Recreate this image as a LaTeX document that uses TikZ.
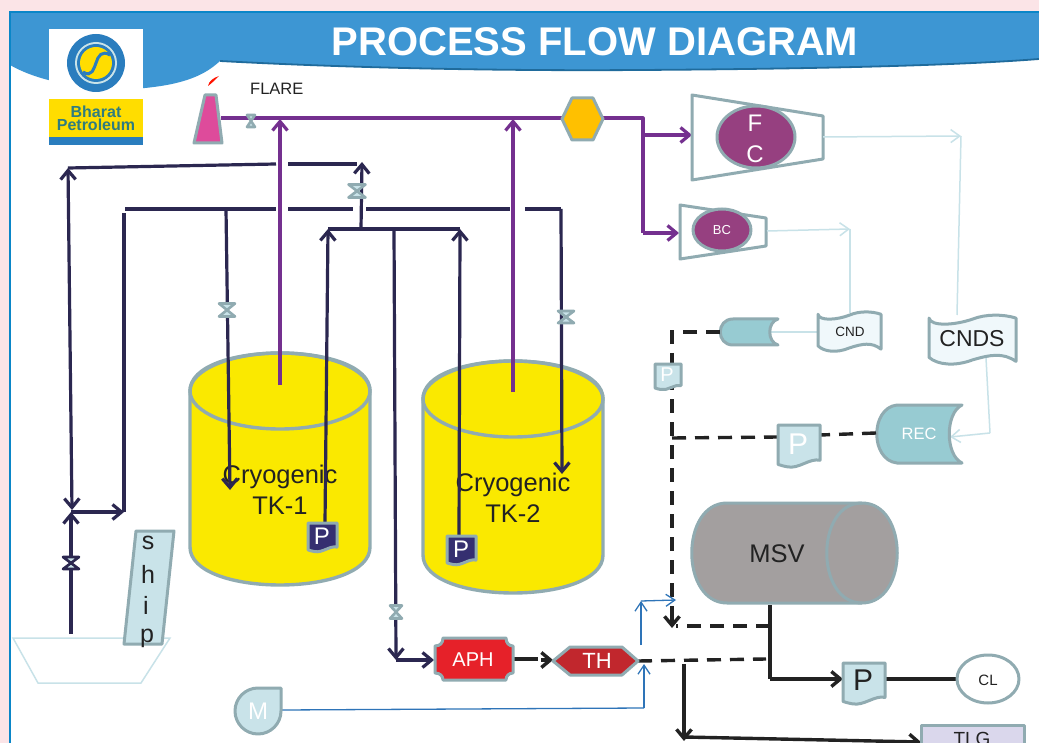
\documentclass[tikz,border=0pt]{standalone}
\usepackage{fontspec}
\setmainfont{Liberation Sans}
\usetikzlibrary{arrows.meta,calc}
\definecolor{pinkbg}{HTML}{FBE4E7}
\definecolor{hdr}{HTML}{3D96D3}
\definecolor{hdrdark}{HTML}{1F6B9C}
\definecolor{edgeblue}{HTML}{0A86C8}
\definecolor{grayline}{HTML}{90ABB1}
\definecolor{navy}{HTML}{2B2750}
\definecolor{navyfill}{HTML}{352F70}
\definecolor{purp}{HTML}{74308F}
\definecolor{paleline}{HTML}{C8E2E8}
\definecolor{paleblue}{HTML}{C9E3E9}
\definecolor{teal}{HTML}{97CBD2}
\definecolor{wave}{HTML}{F0F8FB}
\definecolor{tankyellow}{HTML}{FAE900}
\definecolor{plum}{HTML}{964080}
\definecolor{wire}{HTML}{2E74B8}
\definecolor{ink}{HTML}{222222}
\definecolor{logoteal}{HTML}{2F7C80}
\definecolor{flarepink}{HTML}{DE4B9B}
\definecolor{msvgray}{HTML}{A39F9F}
\definecolor{aphred}{HTML}{E62129}
\definecolor{thred}{HTML}{C1272D}
\definecolor{tlgfill}{HTML}{DAD7EC}
\definecolor{hexorange}{HTML}{FFC000}
\definecolor{logoyellow}{HTML}{FFDD00}
\definecolor{logoblue}{HTML}{2A7DBE}
\tikzset{
  px/.style={font=\fontsize{#1}{#1}\selectfont},
  shapeline/.style={draw=grayline,line width=3pt,line join=round},
  navyline/.style={draw=navy,line width=3.2pt},
  navytip/.style={navyline,-{Straight Barb[length=9pt,width=15pt,line width=3.2pt]}},
  navytwo/.style={navyline,{Straight Barb[length=9pt,width=15pt,line width=3.2pt]}-{Straight Barb[length=9pt,width=15pt,line width=3.2pt]}},
  purpline/.style={draw=purp,line width=3.2pt},
  purptip/.style={purpline,-{Straight Barb[length=9pt,width=15pt,line width=3.2pt]}},
  blackline/.style={draw=ink,line width=3.4pt},
  blacktip/.style={blackline,-{Straight Barb[length=9pt,width=15pt,line width=3.4pt]}},
  dashline/.style={draw=ink,line width=3.4pt,dash pattern=on 14pt off 9pt},
  paleconn/.style={draw=paleline,line width=1.5pt},
  paletip/.style={paleconn,-{Straight Barb[length=9pt,width=13pt,line width=1.5pt]}},
  wireconn/.style={draw=wire,line width=1.3pt},
  wiretip/.style={wireconn,-{Straight Barb[length=9pt,width=12pt,line width=1.3pt]}},
  lbl/.style={inner sep=0pt,align=center},
}
% valve: name, x, y, half width, half height, line colour
\newcommand{\valvesym}[6]{%
  \coordinate (#1) at (#2,#3);
  \filldraw[draw=#6,fill=paleblue,line width=2.6pt,line join=round,shift={(#2,#3)}]
    (-#4,-#5) -- (#4,-#5) -- (-#4,#5) -- (#4,#5) -- cycle;}
% document-shape: x y w h fill
\newcommand{\pagesym}[5]{%
  \filldraw[shapeline,fill=#5,shift={(#1,#2)},xscale=#3,yscale=#4]
    (0,0) -- (1,0) -- (1,.86) .. controls (.75,.8) and (.5,1.08) .. (.22,1.02)
    .. controls (.12,1) and (.05,.98) .. (0,.96) -- cycle;}
% wavy document: x y w h
\newcommand{\wavesym}[4]{%
  \filldraw[shapeline,fill=wave,shift={(#1,#2)},xscale=#3,yscale=#4]
    (0,.08) .. controls (.02,.25) and (.3,.22) .. (.5,.1)
    .. controls (.65,0) and (.85,0) .. (1,.08) -- (1,.93)
    .. controls (.85,.75) and (.7,.8) .. (.5,.9)
    .. controls (.3,1.03) and (.1,1) .. (0,.85) -- cycle;}
% cylinder tank: centre x, top y, rx, ry, bottom y
\newcommand{\tanksym}[5]{%
  \filldraw[shapeline,fill=tankyellow,line width=3.4pt] (#1-#3,#2) -- (#1-#3,#5)
    .. controls (#1-#3,#5+1.333*#4) and (#1+#3,#5+1.333*#4) .. (#1+#3,#5) -- (#1+#3,#2)
    .. controls (#1+#3,#2-1.333*#4) and (#1-#3,#2-1.333*#4) .. (#1-#3,#2) -- cycle;
  \draw[shapeline,line width=3.4pt] (#1,#2) ellipse[x radius=#3pt,y radius=#4pt];}
\begin{document}
\begin{tikzpicture}[x=1pt,y=-1pt]
\clip (0,0) rectangle (1039,743);
% page
\fill[pinkbg] (0,0) rectangle (1039,743);
\fill[white] (9,11) rectangle (1039,743);
% header
\fill[hdr] (10,12) -- (1039,12) -- (1039,59) .. controls (950,66) and (800,69) .. (640,70)
  .. controls (500,71) and (350,68) .. (220,61) .. controls (205,75) and (185,84) .. (145,88)
  .. controls (95,90) and (45,85) .. (10,65) -- cycle;
\draw[hdrdark,line width=1.8pt] (1039,59) .. controls (950,66) and (800,69) .. (640,70)
  .. controls (500,71) and (350,68) .. (220,61);
\draw[edgeblue,line width=2.6pt] (1039,12) -- (10,12) -- (10,743);
\node[lbl,px=40,text=white] (title) at (595,42) {\bfseries PROCESS FLOW DIAGRAM};
% logo
\fill[white] (49,29) rectangle (143,100);
\fill[logoyellow] (49,99) rectangle (143,138);
\fill[logoblue] (49,137) rectangle (143,145);
\fill[logoblue] (96,63) circle[radius=29pt];
\fill[paleblue] (96,63) circle[radius=21pt];
\fill[logoblue] (96,63) circle[radius=19pt];
\fill[logoyellow] (96,63) circle[radius=16pt];
\draw[logoblue,line width=3pt] (83,72) .. controls (92,78) and (94,68) .. (96,63) .. controls (98,56) and (102,50) .. (110,55);
\node[lbl,text=logoteal,font=\fontsize{16}{13}\selectfont\bfseries] (logotext) at (96,118) {Bharat\\Petroleum};
% flare
\filldraw[shapeline,fill=flarepink] (205,95) -- (216,95) -- (222,143) -- (194,143) -- cycle;
\fill[red!85!orange] (208,86) .. controls (209,81) and (213,78) .. (219,76) .. controls (215,80) and (212,83) .. (208,86) -- cycle;
\node[lbl,px=16.5,text=ink,anchor=west] (flare) at (250,89) {FLARE};
% tanks
\tanksym{280}{391}{90}{38}{547}
\tanksym{513}{399}{90}{38}{555}
\node[lbl,px=25.5,text=ink] (tk1) at (280,490) {Cryogenic\\[5pt]TK-1};
\node[lbl,px=25.5,text=ink] (tk2) at (513,498) {Cryogenic\\[5pt]TK-2};
% ship
\draw[paleconn] (13,638) -- (170,638) -- (141,683) -- (38,683) -- cycle;
\filldraw[shapeline,fill=paleblue] (136,531) -- (174,531) -- (162,644) -- (124,644) -- cycle;
\node[lbl,px=25,text=ink] (s1) at (148,543) {s};
\node[lbl,px=25,text=ink] (s2) at (148,574) {h};
\node[lbl,px=25,text=ink] (s3) at (146,605) {i};
\node[lbl,px=25,text=ink] (s4) at (147,638) {p};
% junction coordinates
\coordinate (shipOut) at (71,634);
\coordinate (shipJ) at (71,512);
\coordinate (retBot) at (72,510);
\coordinate (retTL) at (68,168);
\coordinate (retTA) at (276,164);
\coordinate (retTB) at (288,164);
\coordinate (retTC) at (357,164);
\coordinate (retTR) at (362,162);
\coordinate (teeTop) at (361,229);
\coordinate (hdrL) at (328,229);
\coordinate (hdrR) at (460,229);
\coordinate (hdrM) at (394,229);
\coordinate (feedL) at (125,209);
\coordinate (feedLt) at (124,213);
\coordinate (feedLb) at (124,512);
\coordinate (feed1) at (226,209);
\coordinate (feedA) at (276,209);
\coordinate (feedB) at (288,209);
\coordinate (feedC) at (353,209);
\coordinate (feedD) at (366,209);
\coordinate (feedE) at (510,209);
\coordinate (feedF) at (525,209);
\coordinate (feedR) at (561,209);
\coordinate (tip1) at (230,490);
\coordinate (tip2) at (562,474);
\coordinate (p1top) at (325,523);
\coordinate (p2top) at (459,536);
\coordinate (aphJ) at (396,660);
\coordinate (aphIn) at (434,660);
% navy pipes
\draw[navytip] (shipOut) -- (shipJ);
\draw[navytip] (shipJ) -- (feedLb);
\draw[navyline] (feedLb) -- (feedLt);
\draw[navytwo] (retTL) -- (retBot);
\draw[navyline] (retTL) -- (retTA);
\draw[navyline] (retTB) -- (retTC);
\draw[navytip] (teeTop) -- (retTR);
\draw[navyline] (hdrL) -- (hdrR);
\draw[navyline] (feedL) -- (feedA);
\draw[navyline] (feedB) -- (feedC);
\draw[navyline] (feedD) -- (feedE);
\draw[navyline] (feedF) -- (feedR);
\draw[navytip] (feed1) -- (tip1);
\draw[navytip] (feedR) -- (tip2);
\draw[navytip] (p1top) -- (hdrL);
\draw[navytip] (p2top) -- (hdrR);
\draw[navytip] (hdrM) -- (aphJ);
\draw[navytip] (aphJ) -- (aphIn);
% purple pipes
\coordinate (flareOut) at (221,118);
\coordinate (hexL) at (563,118);
\coordinate (hexR) at (603,118);
\coordinate (pJ) at (643,118);
\coordinate (in1) at (280,385);
\coordinate (in1t) at (280,119);
\coordinate (in2) at (513,392);
\coordinate (in2t) at (513,119);
\coordinate (fcIn) at (692,135);
\coordinate (bcIn) at (679,233);
\draw[purpline] (flareOut) -- (hexL);
\draw[purptip] (in1) -- (in1t);
\draw[purptip] (in2) -- (in2t);
\draw[purpline,line join=round] (hexR) -- (pJ) -- (pJ |- bcIn);
\draw[purptip] (pJ |- bcIn) -- (bcIn);
\draw[purptip] (pJ |- fcIn) -- (fcIn);
% valves
\valvesym{vFlare}{251}{121}{4}{6}{grayline}
\valvesym{vRet}{357}{191}{8.5}{6.5}{grayline}
\valvesym{vT1}{227}{310}{8}{6.5}{grayline}
\valvesym{vT2}{566}{317}{8}{6}{grayline}
\valvesym{vAph}{396}{612}{6}{6.5}{grayline}
\valvesym{vShip}{71}{563}{8}{6}{navy}
% hexagon
\filldraw[shapeline,fill=hexorange] (562,119) -- (572,98) -- (593,98) -- (603,119) -- (593,140) -- (572,140) -- cycle;
% compressors
\filldraw[shapeline,fill=white] (692,95) -- (823,116) -- (823,159) -- (692,180) -- cycle;
\filldraw[shapeline,fill=plum] (756,137) ellipse[x radius=39pt,y radius=31pt];
\node[lbl,px=24,text=white] (fc1) at (755,123) {F};
\node[lbl,px=24,text=white] (fc2) at (755,154) {C};
\filldraw[shapeline,fill=white] (680,205) -- (766,218) -- (766,246) -- (680,259) -- cycle;
\filldraw[shapeline,fill=plum] (722,230) ellipse[x radius=29pt,y radius=21pt];
\node[lbl,px=13,text=white] (bc) at (722,230) {BC};
% pale connectors
\coordinate (fcOut) at (823,137);
\coordinate (c1) at (961,136);
\coordinate (cndsIn) at (957,315);
\coordinate (bcOut) at (767,231);
\coordinate (c2) at (850,229);
\coordinate (cndIn) at (850,313);
\coordinate (cndOut) at (818,332);
\coordinate (tankIn) at (770,332);
\coordinate (cndsOut) at (986,358);
\coordinate (c3) at (990,433);
\coordinate (recIn) at (950,437);
\draw[paletip] (fcOut) -- (c1);
\draw[paleconn] (c1) -- (cndsIn);
\draw[paletip] (bcOut) -- (c2);
\draw[paleconn] (c2) -- (cndIn);
\draw[paleconn] (cndOut) -- (tankIn);
\draw[paleconn] (cndsOut) -- (c3);
\draw[paletip] (c3) -- (recIn);
% wave documents
\wavesym{818}{311}{63}{41}
\node[lbl,px=13.5,text=ink] (cnd) at (850,332) {CND};
\wavesym{929}{314}{87}{51}
\node[lbl,px=23,text=ink] (cnds) at (972,339) {CNDS};
% small drum + REC
\filldraw[shapeline,fill=teal] (778,319) -- (733,319) .. controls (716,319) and (716,345) .. (733,345) -- (778,345)
  .. controls (767,342) and (767,322) .. (778,319) -- cycle;
\filldraw[shapeline,fill=teal] (962,405) -- (897,405) .. controls (870,408) and (870,460) .. (897,463) -- (962,463)
  .. controls (945,455) and (945,413) .. (962,405) -- cycle;
\node[lbl,px=16.5,text=white] (rec) at (919,434) {REC};
% dashed process lines
\coordinate (drumL) at (720,332);
\coordinate (dc) at (672,332);
\coordinate (dT) at (672,438);
\coordinate (dTip) at (672,628);
\coordinate (dTop) at (672,618);
\coordinate (pRecL) at (778,437);
\coordinate (pRecR) at (820,435);
\coordinate (recL) at (876,433);
\coordinate (msvOut) at (770,605);
\coordinate (msvJ) at (770,626);
\coordinate (msvK) at (770,679);
\coordinate (msvDash) at (676,626);
\coordinate (pIn) at (843,679);
\coordinate (pOut) at (885,679);
\coordinate (clIn) at (958,679);
\coordinate (thOut) at (638,661);
\coordinate (thEnd) at (766,659);
\coordinate (tJ) at (684,664);
\coordinate (tK) at (684,741);
\coordinate (tStart) at (684,737);
\coordinate (tlgIn) at (921,742);
\draw[dashline] (drumL) -- (dc) -- (dT) -- (dTop);
\draw[blacktip] (dTop) -- (dTip);
\draw[dashline] (dT) -- (pRecL);
\draw[dashline] (recL) -- (pRecR);
\draw[dashline] (msvJ) -- (msvDash);
\draw[dashline] (thOut) -- (thEnd);
\draw[blackline] (msvOut) -- (msvK);
\draw[blacktip] (msvK) -- (pIn);
\draw[blackline] (pOut) -- (clIn);
\draw[blacktip] (tJ) -- (tK);
\draw[blacktip] (tStart) -- (tlgIn);
% APH -> TH
\coordinate (aphOut) at (513,659);
\coordinate (arrA) at (538,659);
\coordinate (arrB) at (541,660);
\coordinate (thIn) at (553,660);
\draw[blackline] (aphOut) -- (arrA);
\draw[blacktip] (arrB) -- (thIn);
% blue wires
\coordinate (mOut) at (282,710);
\coordinate (wK) at (644,708);
\coordinate (wTh) at (644,664);
\coordinate (w2) at (641,645);
\coordinate (wC) at (641,601);
\coordinate (wTip) at (676,600);
\draw[wireconn] (mOut) -- (wK);
\draw[wiretip] (wK) -- (wTh);
\draw[wiretip] (w2) -- (wC);
\draw[wiretip] (wC) -- (wTip);
% P documents
\pagesym{655}{364}{26}{25}{paleblue}
\node[lbl,px=20,text=white] (pa) at (667,375) {P};
\pagesym{778}{425}{42}{41}{paleblue}
\node[lbl,px=30,text=white] (pb) at (798,444) {P};
\pagesym{843}{663}{42}{40}{paleblue}
\node[lbl,px=30,text=ink] (pc) at (863,680) {P};
\pagesym{308}{523}{29}{28}{navyfill}
\node[lbl,px=24,text=white] (pd) at (322,536) {P};
\pagesym{447}{536}{29}{28}{navyfill}
\node[lbl,px=24,text=white] (pe) at (461,549) {P};
% CL
\filldraw[shapeline,fill=white] (988,679) ellipse[x radius=31pt,y radius=24pt];
\node[lbl,px=15,text=ink] (cl) at (988,680) {CL};
% MSV
\filldraw[shapeline,fill=msvgray] (862,503) -- (727,503) .. controls (680,503) and (680,603) .. (727,603) -- (862,603)
  .. controls (909,603) and (909,503) .. (862,503) -- cycle;
\draw[shapeline] (862,503) .. controls (815,503) and (815,603) .. (862,603);
\node[lbl,px=25.5,text=ink] (msv) at (777,554) {MSV};
% APH
\filldraw[shapeline,fill=aphred] (443,638) -- (506,638) .. controls (506,643) and (509,646) .. (513,646) -- (513,673)
  .. controls (509,673) and (506,676) .. (506,680) -- (443,680) .. controls (443,676) and (440,673) .. (435,673)
  -- (435,646) .. controls (440,646) and (443,643) .. (443,638) -- cycle;
\node[lbl,px=20,text=white] (aph) at (473,660) {APH};
% TH
\filldraw[shapeline,fill=thred] (553,661) -- (570,647) -- (622,647) -- (638,661) -- (622,675) -- (570,675) -- cycle;
\node[lbl,px=22,text=white] (th) at (597,661) {TH};
% M
\filldraw[shapeline,fill=paleblue] (281,688) -- (258,688) .. controls (245.3,688) and (235,698.3) .. (235,711)
  .. controls (235,723.7) and (245.3,734) .. (258,734) .. controls (270.7,734) and (281,723.7) .. (281,711) -- cycle;
\node[lbl,px=24,text=white] (m) at (258,711) {M};
% TLG
\filldraw[shapeline,fill=tlgfill] (921,725) rectangle (1024,760);
\node[lbl,px=19,text=ink,anchor=base] (tlg) at (972,745) {TLG};
\end{tikzpicture}
\end{document}
